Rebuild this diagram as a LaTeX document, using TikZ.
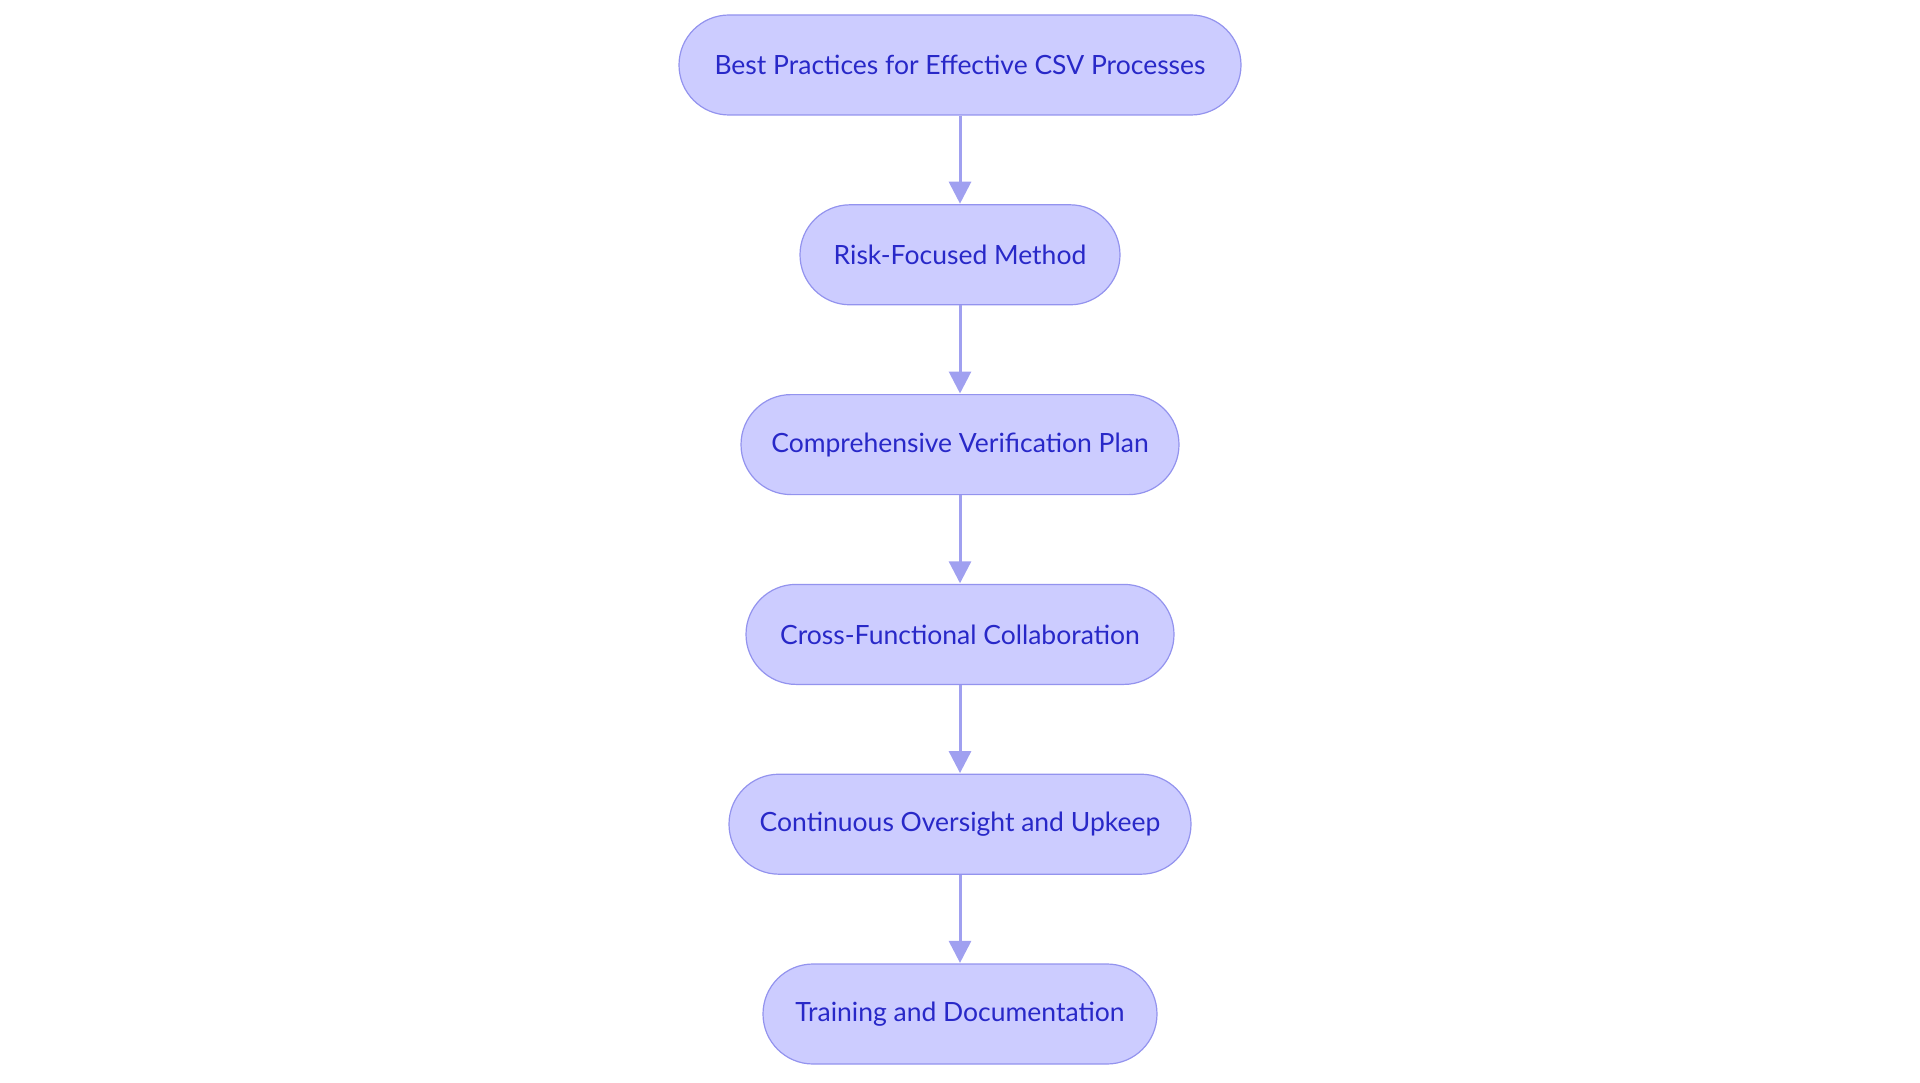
\documentclass[tikz,border=0pt]{standalone}
\usepackage{fontspec}
\setmainfont{Lato}
\usetikzlibrary{arrows.meta}
\definecolor{boxfill}{RGB}{204,204,255}
\definecolor{boxdraw}{RGB}{147,147,238}
\definecolor{boxtext}{RGB}{40,40,200}
\definecolor{arrowc}{RGB}{160,160,240}
\begin{document}
\begin{tikzpicture}[x=1pt,y=-1pt,
  stage/.style={draw=boxdraw, fill=boxfill, line width=1.2pt, rounded corners=50pt,
    minimum height=100pt, inner sep=0pt, text=boxtext,
    font=\fontsize{26.5}{31}\selectfont},
  flow/.style={draw=arrowc, line width=3pt, -{Triangle[length=22pt,width=22pt]}, shorten >=0.5pt}]
\useasboundingbox (0,0) rectangle (1920,1083);
\node[stage, minimum width=562pt] (n1) at (960,65) {Best Practices for Effective CSV Processes};
\node[stage, minimum width=320pt] (n2) at (960,254.8) {Risk-Focused Method};
\node[stage, minimum width=438pt] (n3) at (960,444.6) {Comprehensive Verification Plan};
\node[stage, minimum width=428pt] (n4) at (960,634.4) {Cross-Functional Collaboration};
\node[stage, minimum width=462pt] (n5) at (960,824.2) {Continuous Oversight and Upkeep};
\node[stage, minimum width=394pt] (n6) at (960,1014) {Training and Documentation};
\draw[flow] (n1) -- (n2);
\draw[flow] (n2) -- (n3);
\draw[flow] (n3) -- (n4);
\draw[flow] (n4) -- (n5);
\draw[flow] (n5) -- (n6);
\end{tikzpicture}
\end{document}
